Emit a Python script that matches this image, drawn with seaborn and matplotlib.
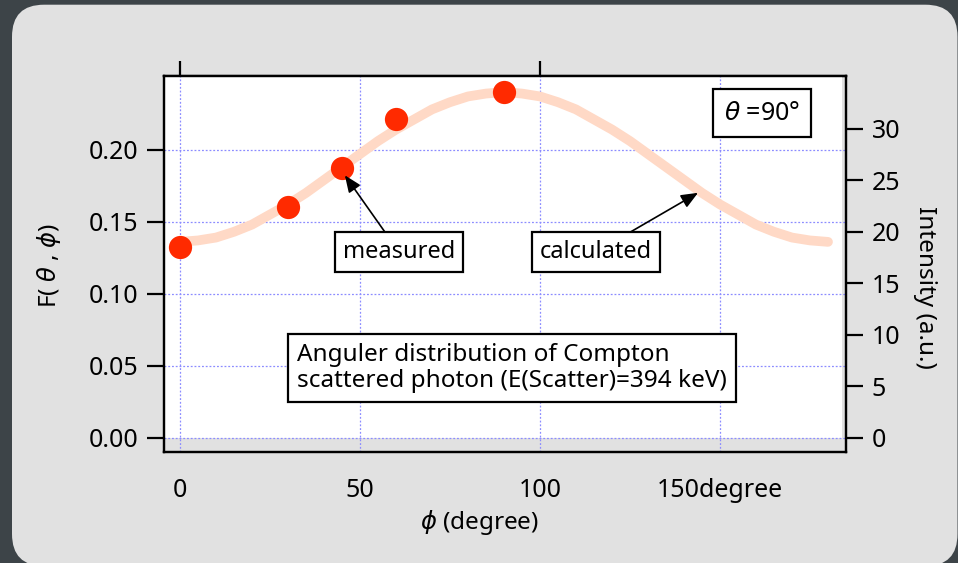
import matplotlib
matplotlib.use("Agg")
import matplotlib.pyplot as plt
from matplotlib.patches import FancyBboxPatch, Rectangle
import seaborn as sns
import pandas as pd

# ---- data ----
phi_measured = [0, 30, 45, 60, 90]
intensity_measured = [18.5, 22.4, 26.2, 31.0, 33.6]

phi_calc = [0, 5, 10, 15, 20, 25, 30, 35, 40, 45, 50, 55, 60, 65, 70, 75, 80, 85, 90,
            95, 100, 105, 110, 115, 120, 125, 130, 135, 140, 145, 150, 155, 160,
            165, 170, 175, 180]
f_calc = [0.136, 0.137, 0.139, 0.143, 0.148, 0.155, 0.162, 0.170, 0.179, 0.188,
          0.197, 0.206, 0.214, 0.221, 0.228, 0.233, 0.237, 0.239, 0.240,
          0.239, 0.237, 0.233, 0.228, 0.221, 0.214, 0.206, 0.197, 0.188, 0.179,
          0.170, 0.162, 0.155, 0.148, 0.143, 0.139, 0.137, 0.136]

x_ticks = [0, 50, 100, 150]
x_tick_labels = ["0", "50", "100", "150degree"]
f_ticks = [0.00, 0.05, 0.10, 0.15, 0.20]
f_tick_labels = ["0.00", "0.05", "0.10", "0.15", "0.20"]
i_ticks = [0, 5, 10, 15, 20, 25, 30]
i_tick_labels = ["0", "5", "10", "15", "20", "25", "30"]

df_meas = pd.DataFrame({"phi": phi_measured, "intensity": intensity_measured})
df_calc = pd.DataFrame({"phi": phi_calc, "F": f_calc})

sns.set_style("white")
plt.rcParams["font.family"] = ["Noto Sans", "DejaVu Sans"]
plt.rcParams["mathtext.fontset"] = "dejavusans"
plt.rcParams["text.color"] = "black"
plt.rcParams["axes.labelcolor"] = "black"
plt.rcParams["axes.edgecolor"] = "black"

FS_TICK = 18
FS_LAB = 17.5
FS_TXT = 17

fig = plt.figure(figsize=(9.58, 5.63), dpi=100)
fig.patch.set_facecolor("#3d4448")
panel = FancyBboxPatch((0.12, -0.03), 9.455, 5.613,
                       boxstyle="round,pad=0,rounding_size=0.32",
                       transform=fig.dpi_scale_trans, facecolor="#e1e1e1",
                       edgecolor="none", zorder=-5)
fig.patches.append(panel)

ax = fig.add_axes([164 / 958, 1 - 452 / 563, 682 / 958, 376 / 563])
ax.set_zorder(2)
ax.set_facecolor("#e1e1e1")
ax.set_xlim(-4.44, 185.0)
ax.set_ylim(-0.00993, 0.2512)

# white plotting region
ax.add_patch(Rectangle((-4.44, 0.0), 188.3, 0.2512 + 0.001, facecolor="white",
                       edgecolor="none", zorder=0.1))

gridc = "#8c8cff"
for xv in x_ticks:
    ax.axvline(xv, color=gridc, lw=0.9, ls=(0, (1.5, 1.5)), zorder=0.5)
for yv in f_ticks:
    ax.axhline(yv, color=gridc, lw=0.9, ls=(0, (1.5, 1.5)), zorder=0.5)

sns.lineplot(data=df_calc, x="phi", y="F", ax=ax, color="#ffd9c6", lw=7,
             zorder=2, legend=False, solid_joinstyle="round")

for s in ax.spines.values():
    s.set_linewidth(1.6)
    s.set_color("black")

ax.set_xticks(x_ticks)
ax.set_xticklabels(x_tick_labels)
ax.set_yticks(f_ticks)
ax.set_yticklabels(f_tick_labels)
ax.tick_params(axis="both", direction="out", length=12.5, width=1.6,
               labelsize=FS_TICK, colors="black")
ax.tick_params(axis="x", pad=6)
ax.tick_params(axis="y", pad=6)

ax.set_xlabel(r"$\phi$ (degree)", fontsize=FS_LAB)
ax.xaxis.set_label_coords(0.4633, -0.1888)
ax.xaxis.label.set_va("center")
ax.set_ylabel(r"F( $\theta$ , $\phi$)", fontsize=FS_LAB)
ax.yaxis.set_label_coords(-0.1686, 0.4947)
ax.yaxis.label.set_va("center")

# top ticks
top = ax.secondary_xaxis("top")
top.set_xticks([0, 100])
top.set_xticklabels(["", ""])
top.tick_params(direction="out", length=10.5, width=1.6, colors="black")
top.spines["top"].set_linewidth(1.6)
top.spines["top"].set_color("black")

ax2 = ax.twinx()
ax2.set_ylim(-1.39, 35.15)
ax2.set_yticks(i_ticks)
ax2.set_yticklabels(i_tick_labels)
ax2.tick_params(axis="y", direction="out", length=12.5, width=1.6,
                labelsize=FS_TICK, pad=6, colors="black")
for s in ax2.spines.values():
    s.set_linewidth(1.6)
    s.set_color("black")
sns.scatterplot(data=df_meas, x="phi", y="intensity", ax=ax2, color="#ff2a00",
                s=280, linewidth=0, zorder=5, legend=False)
ax2.set_ylabel("Intensity (a.u.)", fontsize=FS_LAB, rotation=270)
ax2.yaxis.set_label_coords(1.1158, 0.4375)
ax2.yaxis.label.set_va("center")
ax2.set_xlabel("")

box = dict(boxstyle="square,pad=0.32", facecolor="white", edgecolor="black", lw=1.6)
arrow = dict(arrowstyle="-|>,head_length=0.6,head_width=0.25", color="black",
             lw=1.2, shrinkA=0, shrinkB=0)

ax2.annotate("measured", xy=(45.8, 25.5), xycoords="data",
             xytext=(399, 311), textcoords="figure pixels",
             ha="center", va="center", fontsize=FS_TXT, bbox=box,
             arrowprops=arrow, zorder=10)
ax2.annotate("calculated", xy=(143.9, 23.8), xycoords="data",
             xytext=(596, 311), textcoords="figure pixels",
             ha="center", va="center", fontsize=FS_TXT, bbox=box,
             arrowprops=arrow, zorder=10)
ax2.annotate(r"$\theta$ =90°", xy=(762, 450), xycoords="figure pixels",
             ha="center", va="center", fontsize=18,
             bbox=dict(boxstyle="square,pad=0.45", facecolor="white",
                       edgecolor="black", lw=1.6), zorder=10)
ax2.annotate("Anguler distribution of Compton\nscattered photon (E(Scatter)=394 keV)",
             xy=(512, 195), xycoords="figure pixels", ha="center", va="center",
             multialignment="left", fontsize=17.5, linespacing=1.1,
             bbox=dict(boxstyle="square,pad=0.38", facecolor="white",
                       edgecolor="black", lw=1.6), zorder=10)

fig.savefig("out.png", dpi=100, facecolor=fig.get_facecolor())
